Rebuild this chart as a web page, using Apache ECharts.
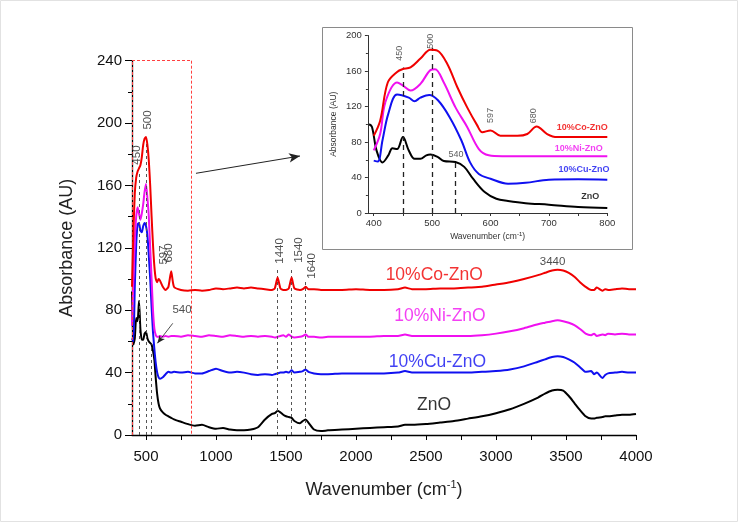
<!DOCTYPE html>
<html>
<head>
<meta charset="utf-8">
<script src="https://cdn.jsdelivr.net/npm/echarts@6/dist/echarts.min.js"></script>
<style>
html,body{margin:0;padding:0;background:#fff;}
#chart{width:738px;height:522px;}
</style>
</head>
<body>
<div id="chart"></div>
<script>
// ---------- main spectrum data ----------
const mainX = [400,410,420,430,440,450,460,470,480,490,500,510,520,530,540,550,560,570,580,590,600,620,640,660,680,700,750,800,850,900,950,1000,1050,1100,1150,1200,1250,1300,1350,1400,1420,1440,1460,1480,1500,1520,1540,1560,1600,1620,1640,1660,1700,1750,1800,1900,2000,2100,2200,2300,2350,2400,2500,2600,2700,2800,2900,3000,3100,3200,3300,3350,3400,3440,3480,3520,3560,3600,3640,3680,3700,3720,3760,3780,3800,3850,3900,3950,4000];
const coY  = [95,130,155,165,169,171,173,178,186,190,191,186,176,160,140,122,108,100,98,100,99,95,93,95,105,95,93,92.5,93,92.5,93,94,93.5,94,94.5,94,94.5,94,93.5,93,94,101,94,93,93,94,101,94,93,93.5,95,93.5,93.5,93,93,93,93.5,93,93,93.5,94.5,93.5,93.5,94,94,94.5,95,96.5,98,100,102.5,104,105.5,106,105.5,104,101.5,98,95,93,93,94.5,92.5,93.5,93,93.5,94,93.5,93.5];
const niY  = [70,100,125,140,146,142,138,142,148,156,161,152,140,120,100,80,68,64,63,63,63.5,63,63.5,63,63.5,63.5,63,64,63.5,63,64,63.5,63,64,63.5,63,63.5,63,63.5,63,62.5,63,63.5,64,63,64.5,63,62.5,63,63.5,64.5,63,63,62.5,63,63,63,63,63.5,63.5,64.5,63.5,63.5,63.5,63.5,63.5,64,65,66.5,68.5,71,72,73,73.5,73,72,70.5,68,65,64,65,63.5,64.5,64,65,64.5,65,64.5,64.5];
const cuY  = [62,60,95,122,135,136,131,130,134,136,134,128,115,100,82,66,55,46,40,37,36,37,39,40.5,40,40.5,40,40.5,39.5,39.5,41,42.5,41,40,40.5,40,39,38.5,39,38.5,39,39.5,40,40,40.5,40,41.5,40,40.5,41,42,40.5,39.5,39,39,39.5,39.5,39.5,39.5,40,41,40,40,40,40,40,40.5,41,42,44,47,48.5,50,50.5,50,48.5,46.5,43.5,40.5,41,39,40,36.5,38.5,39.5,40,40.5,40,40];
const znoY = [92,58,62,75,73,86,68,61,61,65,66,62,60,59,58,54,48,36,26,20,17,14.5,13,12,11,10,8.5,7,6,6.5,5,4,4.5,3.5,3,3,3.5,5,10,13.5,14,15.5,14.5,13,12,11.5,11,9,7.5,9,10,8,3.5,2.5,3,3.5,4,4.5,5,5.5,6.5,6.5,7,8,9,10.5,12,14,16.5,20,24,26.5,28.5,29,28.5,25,20.5,16,12,10.5,10.5,11,11.5,12,12,12.5,13,13,13.5];

// ---------- inset data (390-800 cm-1) ----------
const inCoX  = [400,411,424,440,449,463,480,497,509,526,543,560,577,586,600,617,646,663,679,697,714,800];
const inCoY  = [87,104,147,159,162,164,174,184,183,168,142,119,99,91,93,87,87,89,97.5,89,85.5,85.5];
const inNiX  = [400,411,420,440,450,463,480,497,505,520,540,560,580,597,620,800];
const inNiY  = [70.5,89,125,147,143.6,138,145.5,161,162,147,119,97,72,65,64,64];
const inCuX  = [400,407,415,425,440,460,470,480,495,510,530,550,565,580,600,630,660,700,750,800];
const inCuY  = [59,58,82,112,133.5,130,126,130,133,127,108,82,57,44,38.6,33,34,37.5,38,37.5];
const inZnX  = [392,397,405,415,425,432,440,450,460,470,480,490,497,510,520,540,555,570,590,610,630,660,700,750,800];
const inZnY  = [100,97,70,57,65,73,72,85.5,70.5,61,61,65,66,63,58.5,57.4,52,38.6,23.6,16,13.5,11,9.4,6.8,5.6];

// ---------- ticks ----------
const mainXLabels = [500,1000,1500,2000,2500,3000,3500,4000];
const mainXTicks  = [500,750,1000,1250,1500,1750,2000,2250,2500,2750,3000,3250,3500,3750,4000];
const insetXLabels = [400,500,600,700,800];
const insetXTicks  = [400,450,500,550,600,650,700,750,800];

// ---------- annotations ----------
const seriesNames = ['10%Co-ZnO','10%Ni-ZnO','10%Cu-ZnO','ZnO'];
const mainNamePos = [[2559,102.6],[2600,75.9],[2582,47],[2557,19.2]];
const insetNamePos = [[757,96],[751,73],[760,48.8],[771,18.8]];
const mainPeakText = [['450',438,179.5,90],['500',516,202,90],['597',629,115.4,90],['680',666,116.7,90],['540',757,80.1,0],['1440',1457,118,90],['1540',1595,118.6,90],['1640',1684,108.4,90],['3440',3404,111.1,0]];
const insetPeakText = [['450',444,180,90],['500',497,193.5,90],['597',600,110,90],['680',674,109.5,90],['540',541,66,0]];
const mainDashed = [[450,168],[500,188],[540,58],[1440,106],[1540,106],[1640,100]];
const insetDashed = [[450,164],[500,186],[540,58]];
const zoomBox = [400,820,0,240];
const bigArrow = [[857,167.8],[1600,178.9]];
const smallArrow = [[691,71.6],[581,58.8]];

const colors = ['#f00000','#f010f0','#1010f0','#000000'];
const FONT = '"Liberation Sans", Arial, Helvetica, sans-serif';

const zip = (xs, ys) => xs.map((x, i) => [x, ys[i]]);
const plain = v => String(v);

const chart = echarts.init(document.getElementById('chart'), null, {renderer:'canvas'});

const mainSeriesData = [coY, niY, cuY, znoY];
const insetSeries = [[inCoX,inCoY],[inNiX,inNiY],[inCuX,inCuY],[inZnX,inZnY]];

const series = [];
mainSeriesData.forEach((ys, i) => {
  series.push({
    type:'line', xAxisIndex:0, yAxisIndex:0, data: zip(mainX, ys),
    showSymbol:false, smooth:0.2, lineStyle:{color:colors[i], width:2}, z: 5 - i
  });
});
insetSeries.forEach((s, i) => {
  series.push({
    type:'line', xAxisIndex:1, yAxisIndex:1, data: zip(s[0], s[1]),
    showSymbol:false, smooth:0.35, lineStyle:{color:colors[i], width:2}, z: 5 - i
  });
});

// main decorations: dashed guides, zoom box, arrows
series.push({
  type:'line', xAxisIndex:0, yAxisIndex:0, data:[], silent:true,
  markLine:{
    silent:true, symbol:['none','none'], animation:false, label:{show:false},
    data: [
      ...mainDashed.map(d => [{coord:[d[0],0], lineStyle:{color:'#555', type:[3,3], width:1}}, {coord:[d[0],d[1]]}]),
      [{coord:[zoomBox[0],zoomBox[3]], lineStyle:{color:'#ff4040', type:[3,2], width:1}}, {coord:[zoomBox[1],zoomBox[3]]}],
      [{coord:[zoomBox[1],zoomBox[3]], lineStyle:{color:'#ff4040', type:[3,2], width:1}}, {coord:[zoomBox[1],zoomBox[2]]}],
      [{coord:[zoomBox[0],zoomBox[2]], lineStyle:{color:'#ff4040', type:[3,2], width:1}}, {coord:[zoomBox[0],zoomBox[3]]}],
      [{coord:bigArrow[0], symbol:'none', lineStyle:{color:'#222', type:'solid', width:1}}, {coord:bigArrow[1], symbol:'arrow', symbolSize:[7,11]}],
      [{coord:smallArrow[0], symbol:'none', lineStyle:{color:'#222', type:'solid', width:0.8}}, {coord:smallArrow[1], symbol:'arrow', symbolSize:[5,8]}]
    ]
  }
});
series.push({
  type:'line', xAxisIndex:1, yAxisIndex:1, data:[], silent:true,
  markLine:{
    silent:true, symbol:['none','none'], animation:false, label:{show:false},
    data: insetDashed.map(d => [{coord:[d[0],0], lineStyle:{color:'#222', type:[5,4], width:1.3}}, {coord:[d[0],d[1]]}])
  }
});

// text annotations via scatter labels
function textSeries(axisIdx, items, fontSize, fontWeight) {
  return {
    type:'scatter', xAxisIndex:axisIdx, yAxisIndex:axisIdx, symbolSize:0, silent:true, z:10,
    data: items.map(it => ({
      value:[it.x, it.y],
      label:{show:true, position:'inside', formatter: it.text, rotate: it.rotate || 0,
        color: it.color, fontSize: fontSize, fontWeight: fontWeight || 'normal', fontFamily: FONT}
    }))
  };
}
series.push(textSeries(0, seriesNames.map((t,i)=>({text:t, x:mainNamePos[i][0], y:mainNamePos[i][1], color:colors[i]})), 17.5));
series.push(textSeries(1, seriesNames.map((t,i)=>({text:t, x:insetNamePos[i][0], y:insetNamePos[i][1], color:colors[i]})), 9, 'bold'));
series.push(textSeries(0, mainPeakText.map(p=>({text:p[0], x:p[1], y:p[2], rotate:p[3], color:'#222'})), 11.5));
series.push(textSeries(1, insetPeakText.map(p=>({text:p[0], x:p[1], y:p[2], rotate:p[3], color:'#333'})), 9));

const supRich = (size) => ({sup:{fontSize:size, fontFamily:FONT, verticalAlign:'top', lineHeight:size, color:'#222'}});

const option = {
  animation:false,
  backgroundColor:'#ffffff',
  textStyle:{fontFamily:FONT},
  grid:[
    {left:132, top:60.7, width:504, height:374.3},
    {left:367.9, top:35.5, width:239.4, height:177.5}
  ],
  xAxis:[
    {type:'value', gridIndex:0, min:400, max:4000,
      axisLine:{show:true, onZero:false, lineStyle:{color:'#000', width:1.3}},
      axisTick:{show:true, customValues:mainXTicks, length:5, lineStyle:{color:'#000'}},
      axisLabel:{customValues:mainXLabels, formatter:plain, fontSize:15, color:'#111', margin:14, fontFamily:FONT},
      splitLine:{show:false},
      name:'Wavenumber (cm{sup|-1})', nameLocation:'middle', nameGap:44,
      nameTextStyle:{fontSize:18, color:'#222', fontFamily:FONT, lineHeight:22, rich:supRich(11)}
    },
    {type:'value', gridIndex:1, min:390, max:800,
      axisLine:{show:true, onZero:false, lineStyle:{color:'#333', width:1}},
      axisTick:{show:true, customValues:insetXTicks, length:3, lineStyle:{color:'#333'}},
      axisLabel:{customValues:insetXLabels, formatter:plain, fontSize:9.5, color:'#333', margin:5, fontFamily:FONT},
      splitLine:{show:false},
      name:'Wavenumber (cm{sup|-1})', nameLocation:'middle', nameGap:18,
      nameTextStyle:{fontSize:8.5, color:'#333', fontFamily:FONT, lineHeight:11, rich:supRich(6)}
    }
  ],
  yAxis:[
    {type:'value', gridIndex:0, min:0, max:240, interval:40,
      axisLine:{show:true, onZero:false, lineStyle:{color:'#000', width:1.3}},
      axisTick:{show:true, length:7, lineStyle:{color:'#000'}},
      minorTick:{show:true, splitNumber:2, length:4, lineStyle:{color:'#000'}},
      axisLabel:{formatter:plain, fontSize:15, color:'#111', margin:10, fontFamily:FONT},
      splitLine:{show:false}, minorSplitLine:{show:false},
      name:'Absorbance (AU)', nameLocation:'middle', nameGap:56, nameRotate:90,
      nameTextStyle:{fontSize:18, color:'#222', fontFamily:FONT}
    },
    {type:'value', gridIndex:1, min:0, max:200, interval:40,
      axisLine:{show:true, onZero:false, lineStyle:{color:'#333', width:1}},
      axisTick:{show:true, length:3, lineStyle:{color:'#333'}},
      minorTick:{show:true, splitNumber:2, length:2, lineStyle:{color:'#333'}},
      axisLabel:{formatter:plain, fontSize:9.5, color:'#333', margin:6, fontFamily:FONT},
      splitLine:{show:false}, minorSplitLine:{show:false},
      name:'Absorbance (AU)', nameLocation:'middle', nameGap:30, nameRotate:90,
      nameTextStyle:{fontSize:8.5, color:'#333', fontFamily:FONT}
    }
  ],
  graphic:[
    {type:'rect', shape:{x:0.5, y:0.5, width:737, height:521}, style:{fill:'none', stroke:'#e2e2e2', lineWidth:1}, silent:true, z:-10},
    {type:'rect', shape:{x:322.5, y:27.5, width:310, height:222}, style:{fill:'none', stroke:'#8a8a8a', lineWidth:1}, silent:true}
  ],
  series: series
};
chart.setOption(option);
</script>
</body>
</html>
